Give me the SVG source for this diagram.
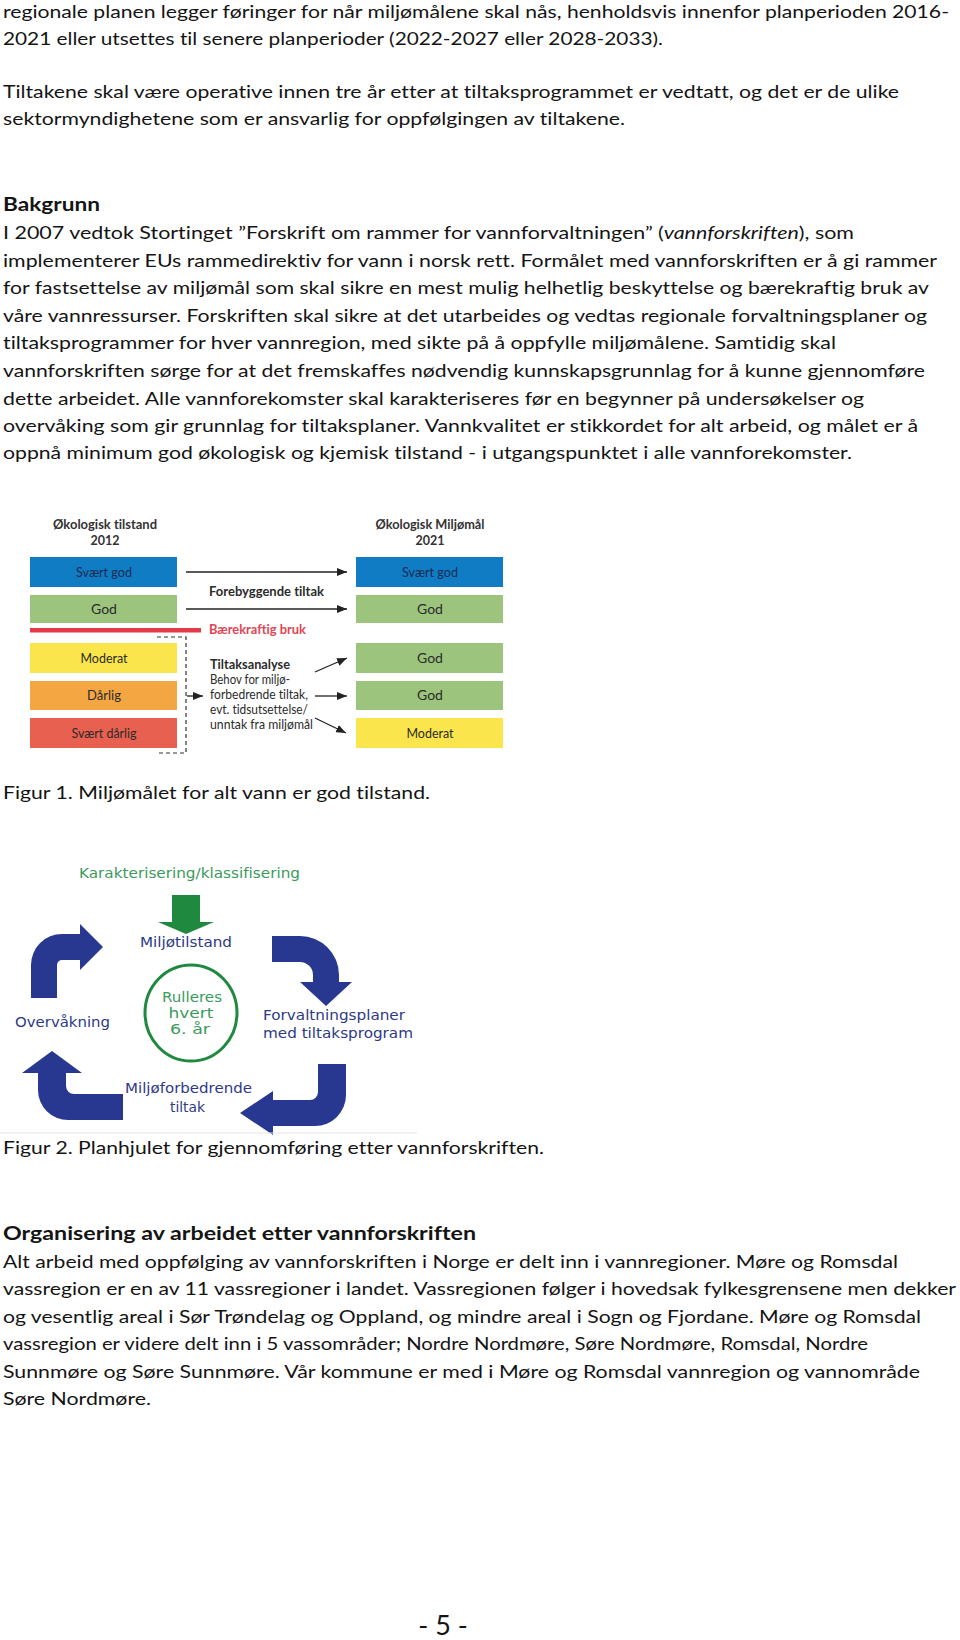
<svg xmlns="http://www.w3.org/2000/svg" width="960" height="1640" viewBox="0 0 960 1640">
<style>
text{font-variant-ligatures:none;font-feature-settings:"liga" 0,"clig" 0}
.b{font-family:Lato,"Liberation Sans",sans-serif;font-size:18px;fill:#141414}
.bb{font-family:Lato,"Liberation Sans",sans-serif;font-size:18px;font-weight:bold;fill:#141414}
.f1{font-family:Lato,"Liberation Sans",sans-serif;font-size:14px;fill:#2b2b2b;text-anchor:middle}
.f1h{font-family:Lato,"Liberation Sans",sans-serif;font-size:12.5px;font-weight:bold;fill:#333;text-anchor:middle}
.f1t{font-family:Lato,"Liberation Sans",sans-serif;font-size:13.5px;fill:#2b2b2b}
.f1b{font-family:Lato,"Liberation Sans",sans-serif;font-size:13.5px;font-weight:bold;fill:#2b2b2b}
.f2{font-family:"DejaVu Sans",Verdana,sans-serif;font-size:13.5px;fill:#2e3a86}
.f2g{font-family:"DejaVu Sans",Verdana,sans-serif;font-size:13.5px;fill:#3c9a5c}
.con{stroke:#222;stroke-width:1.3;fill:none;marker-end:url(#ah)}
.nav{fill:#283891}
</style>
<defs>
<marker id="ah" markerUnits="userSpaceOnUse" markerWidth="10" markerHeight="8" refX="10" refY="4" orient="auto">
<path d="M0,0 L10,4 L0,8 z" fill="#222"/>
</marker>
</defs>
<rect width="960" height="1640" fill="#fff"/>

<g id="text-top">
<text class="b" x="3" y="18" textLength="946" lengthAdjust="spacingAndGlyphs">regionale planen legger føringer for når miljømålene skal nås, henholdsvis innenfor planperioden 2016-</text>
<text class="b" x="3" y="45" textLength="660" lengthAdjust="spacingAndGlyphs">2021 eller utsettes til senere planperioder (2022-2027 eller 2028-2033).</text>
<text class="b" x="3" y="98" textLength="896" lengthAdjust="spacingAndGlyphs">Tiltakene skal være operative innen tre år etter at tiltaksprogrammet er vedtatt, og det er de ulike</text>
<text class="b" x="3" y="125" textLength="622" lengthAdjust="spacingAndGlyphs">sektormyndighetene som er ansvarlig for oppfølgingen av tiltakene.</text>
</g>

<g id="text-bakgrunn">
<text class="bb" x="3" y="211" textLength="97" lengthAdjust="spacingAndGlyphs">Bakgrunn</text>
<text class="b" x="3" y="239" textLength="851" lengthAdjust="spacingAndGlyphs">I 2007 vedtok Stortinget ”Forskrift om rammer for vannforvaltningen” (<tspan font-style="italic">vannforskriften</tspan>), som</text>
<text class="b" x="3" y="267" textLength="934" lengthAdjust="spacingAndGlyphs">implementerer EUs rammedirektiv for vann i norsk rett. Formålet med vannforskriften er å gi rammer</text>
<text class="b" x="3" y="294" textLength="926" lengthAdjust="spacingAndGlyphs">for fastsettelse av miljømål som skal sikre en mest mulig helhetlig beskyttelse og bærekraftig bruk av</text>
<text class="b" x="3" y="322" textLength="924" lengthAdjust="spacingAndGlyphs">våre vannressurser. Forskriften skal sikre at det utarbeides og vedtas regionale forvaltningsplaner og</text>
<text class="b" x="3" y="349" textLength="833" lengthAdjust="spacingAndGlyphs">tiltaksprogrammer for hver vannregion, med sikte på å oppfylle miljømålene. Samtidig skal</text>
<text class="b" x="3" y="377" textLength="922" lengthAdjust="spacingAndGlyphs">vannforskriften sørge for at det fremskaffes nødvendig kunnskapsgrunnlag for å kunne gjennomføre</text>
<text class="b" x="3" y="405" textLength="861" lengthAdjust="spacingAndGlyphs">dette arbeidet. Alle vannforekomster skal karakteriseres før en begynner på undersøkelser og</text>
<text class="b" x="3" y="432" textLength="915" lengthAdjust="spacingAndGlyphs">overvåking som gir grunnlag for tiltaksplaner. Vannkvalitet er stikkordet for alt arbeid, og målet er å</text>
<text class="b" x="3" y="459" textLength="849" lengthAdjust="spacingAndGlyphs">oppnå minimum god økologisk og kjemisk tilstand - i utgangspunktet i alle vannforekomster.</text>
</g>

<g id="fig1">
<g id="fig1-head-left">
<text class="f1h" x="105" y="529" textLength="104" lengthAdjust="spacingAndGlyphs">Økologisk tilstand</text>
<text class="f1h" x="105" y="545">2012</text>
</g>
<g id="fig1-head-right">
<text class="f1h" x="430" y="529" textLength="109" lengthAdjust="spacingAndGlyphs">Økologisk Miljømål</text>
<text class="f1h" x="430" y="545">2021</text>
</g>
<g id="l-svaertgod"><rect x="30" y="557" width="147" height="30" fill="#0f7cc3"/><text class="f1" x="104" y="577" style="fill:#1b2b52" textLength="56" lengthAdjust="spacingAndGlyphs">Svært god</text></g>
<g id="l-god"><rect x="30" y="595" width="147" height="28" fill="#9cc47d"/><text class="f1" x="104" y="614">God</text></g>
<g id="l-moderat"><rect x="30" y="643" width="147" height="30" fill="#fae64c"/><text class="f1" x="104" y="663" textLength="47" lengthAdjust="spacingAndGlyphs">Moderat</text></g>
<g id="l-darlig"><rect x="30" y="681" width="147" height="29" fill="#f4a642"/><text class="f1" x="104" y="700" textLength="34" lengthAdjust="spacingAndGlyphs">Dårlig</text></g>
<g id="l-svaertdarlig"><rect x="30" y="718" width="147" height="30" fill="#e8604f"/><text class="f1" x="104" y="738" textLength="65" lengthAdjust="spacingAndGlyphs">Svært dårlig</text></g>

<g id="r-svaertgod"><rect x="356" y="557" width="147" height="30" fill="#0f7cc3"/><text class="f1" x="430" y="577" style="fill:#1b2b52" textLength="56" lengthAdjust="spacingAndGlyphs">Svært god</text></g>
<g id="r-god1"><rect x="356" y="595" width="147" height="28" fill="#9cc47d"/><text class="f1" x="430" y="614">God</text></g>
<g id="r-god2"><rect x="356" y="643" width="147" height="30" fill="#9cc47d"/><text class="f1" x="430" y="663">God</text></g>
<g id="r-god3"><rect x="356" y="681" width="147" height="29" fill="#9cc47d"/><text class="f1" x="430" y="700">God</text></g>
<g id="r-moderat"><rect x="356" y="718" width="147" height="30" fill="#fae64c"/><text class="f1" x="430" y="738" textLength="47" lengthAdjust="spacingAndGlyphs">Moderat</text></g>

<g id="baerekraftig">
<rect x="30" y="628" width="171" height="4.5" fill="#e23b47"/>
<text class="f1b" x="209" y="634" style="fill:#e04553" textLength="97" lengthAdjust="spacingAndGlyphs">Bærekraftig bruk</text>
</g>
<g id="forebyggende">
<text class="f1b" x="209" y="596" textLength="115" lengthAdjust="spacingAndGlyphs">Forebyggende tiltak</text>
</g>
<g id="tiltaksanalyse">
<text class="f1b" x="210" y="669" textLength="80" lengthAdjust="spacingAndGlyphs">Tiltaksanalyse</text>
<text class="f1t" x="210" y="684" textLength="80" lengthAdjust="spacingAndGlyphs">Behov for miljø-</text>
<text class="f1t" x="210" y="699" textLength="98" lengthAdjust="spacingAndGlyphs">forbedrende tiltak,</text>
<text class="f1t" x="210" y="714" textLength="98" lengthAdjust="spacingAndGlyphs">evt. tidsutsettelse/</text>
<text class="f1t" x="210" y="729" textLength="103" lengthAdjust="spacingAndGlyphs">unntak fra miljømål</text>
</g>
<g id="fig1-connectors">
<path d="M157,637 H186 V753 H157" fill="none" stroke="#333" stroke-width="1.2" stroke-dasharray="4 3"/>
<line class="con" x1="186" y1="572" x2="347" y2="572"/>
<line class="con" x1="186" y1="609" x2="347" y2="609"/>
<line class="con" x1="187" y1="696" x2="203" y2="696"/>
<line class="con" x1="315" y1="672" x2="347" y2="658"/>
<line class="con" x1="315" y1="696" x2="347" y2="696"/>
<line class="con" x1="315" y1="718" x2="346" y2="733"/>
</g>
</g>

<text class="b" x="3" y="799" textLength="427" lengthAdjust="spacingAndGlyphs">Figur 1. Miljømålet for alt vann er god tilstand.</text>

<g id="fig2">
<g id="karakterisering"><text class="f2g" x="79" y="878" textLength="221" lengthAdjust="spacingAndGlyphs">Karakterisering/klassifisering</text></g>
<g id="miljotilstand"><text class="f2" x="140" y="947" textLength="92" lengthAdjust="spacingAndGlyphs">Miljøtilstand</text></g>
<g id="rulleres">
<ellipse cx="191" cy="1013" rx="46" ry="48" fill="none" stroke="#1f8a3f" stroke-width="3"/>
<text class="f2g" x="192" y="1002" text-anchor="middle" textLength="60" lengthAdjust="spacingAndGlyphs">Rulleres</text>
<text class="f2g" x="191" y="1018" text-anchor="middle" textLength="45" lengthAdjust="spacingAndGlyphs">hvert</text>
<text class="f2g" x="190" y="1034" text-anchor="middle" textLength="40" lengthAdjust="spacingAndGlyphs">6. år</text>
</g>
<g id="overvakning"><text class="f2" x="15" y="1027" textLength="95" lengthAdjust="spacingAndGlyphs">Overvåkning</text></g>
<g id="forvaltningsplaner">
<text class="f2" x="263" y="1020" textLength="142" lengthAdjust="spacingAndGlyphs">Forvaltningsplaner</text>
<text class="f2" x="263" y="1038" textLength="150" lengthAdjust="spacingAndGlyphs">med tiltaksprogram</text>
</g>
<g id="miljoforbedrende">
<text class="f2" x="125" y="1093" textLength="127" lengthAdjust="spacingAndGlyphs">Miljøforbedrende</text>
<text class="f2" x="170" y="1112" textLength="35" lengthAdjust="spacingAndGlyphs">tiltak</text>
</g>
<g id="fig2-connectors">
<path d="M172,895 H200 V922 H214 L186,934 L158,922 H172 Z" fill="#1f8a3f"/>
<path class="nav" d="M31,998 L31,965 A31,31 0 0 1 62,934 L80,934 L80,924 L103,947 L80,970 L80,960 L62,960 A5,5 0 0 0 57,965 L57,998 Z"/>
<path class="nav" d="M272,936 L300,936 A39,39 0 0 1 339,975 L339,982 L352,982 L326,1006 L300,982 L313,982 L313,975 A13,13 0 0 0 300,962 L272,962 Z"/>
<path class="nav" d="M318,1064 L346,1064 L346,1095 A31,31 0 0 1 315,1126 L273,1126 L273,1135 L240,1113 L273,1091 L273,1100 L310,1100 A8,8 0 0 0 318,1092 Z"/>
<path class="nav" d="M123,1094 L74,1094 A8,8 0 0 1 66,1086 L66,1073 L82,1073 L52,1051 L22,1073 L38,1073 L38,1090 A30,30 0 0 0 68,1120 L123,1120 Z"/>
</g>
<line x1="0" y1="1133" x2="417" y2="1133" stroke="#e4e4e4" stroke-width="1"/>
</g>

<text class="b" x="3" y="1154" textLength="541" lengthAdjust="spacingAndGlyphs">Figur 2. Planhjulet for gjennomføring etter vannforskriften.</text>

<g id="text-organisering">
<text class="bb" x="3" y="1240" textLength="473" lengthAdjust="spacingAndGlyphs">Organisering av arbeidet etter vannforskriften</text>
<text class="b" x="3" y="1267.5" textLength="895" lengthAdjust="spacingAndGlyphs">Alt arbeid med oppfølging av vannforskriften i Norge er delt inn i vannregioner. Møre og Romsdal</text>
<text class="b" x="3" y="1295" textLength="953" lengthAdjust="spacingAndGlyphs">vassregion er en av 11 vassregioner i landet. Vassregionen følger i hovedsak fylkesgrensene men dekker</text>
<text class="b" x="3" y="1322.5" textLength="918" lengthAdjust="spacingAndGlyphs">og vesentlig areal i Sør Trøndelag og Oppland, og mindre areal i Sogn og Fjordane. Møre og Romsdal</text>
<text class="b" x="3" y="1350" textLength="865" lengthAdjust="spacingAndGlyphs">vassregion er videre delt inn i 5 vassområder; Nordre Nordmøre, Søre Nordmøre, Romsdal, Nordre</text>
<text class="b" x="3" y="1377.5" textLength="917" lengthAdjust="spacingAndGlyphs">Sunnmøre og Søre Sunnmøre. Vår kommune er med i Møre og Romsdal vannregion og vannområde</text>
<text class="b" x="3" y="1405" textLength="148" lengthAdjust="spacingAndGlyphs">Søre Nordmøre.</text>
</g>

<text x="443" y="1635" text-anchor="middle" font-family="Lato,'Liberation Sans',sans-serif" font-size="27px" fill="#141414">- 5 -</text>
</svg>
